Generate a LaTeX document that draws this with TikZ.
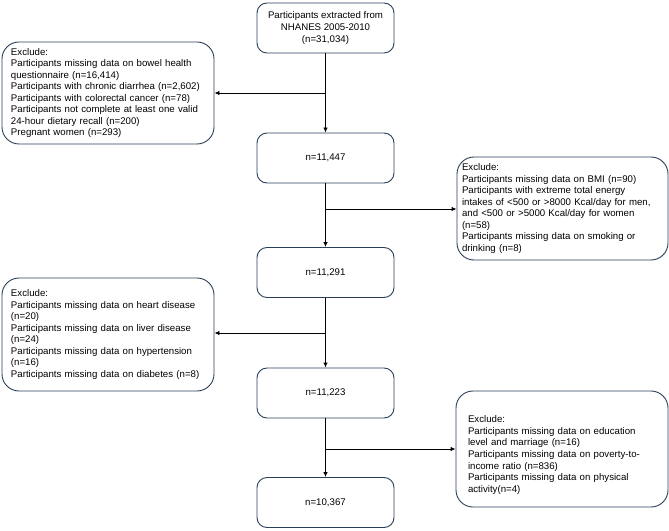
\documentclass[tikz,border=0pt]{standalone}
\usepackage{fontspec}
\setmainfont{Liberation Sans}
\usepackage{xcolor}
\usetikzlibrary{positioning,calc,arrows.meta}
\definecolor{boxline}{HTML}{2A3F57}

\begin{document}
\hyphenpenalty=10000 \exhyphenpenalty=10000
\begin{tikzpicture}[x=1bp,y=-1bp,
    stagebox/.style={draw=boxline, line width=0.9bp, rounded corners=10bp, minimum width=137bp, minimum height=50bp, align=center, font=\fontsize{9.7}{11.7}\selectfont},
    excbox/.style={draw=boxline, line width=0.9bp, rounded corners=17bp, minimum width=212bp, inner sep=0pt, align=left, font=\fontsize{9.7}{11.6}\selectfont},
    flow/.style={line width=0.9bp, -{Latex[length=5bp,width=4.5bp]}}]
    \useasboundingbox (0,0) rectangle (669,531);

    % Main stages
    \node[stagebox] (src) at (325.5,28) {Participants extracted from\\NHANES 2005-2010\\(n=31,034)};
    \node[stagebox] (s1) at (325.5,158) {n=11,447};
    \node[stagebox] (s2) at (325.5,272.5) {n=11,291};
    \node[stagebox] (s3) at (325.5,393) {n=11,223};
    \node[stagebox] (s4) at (325.5,502.5) {n=10,367};

    % Exclusion boxes
    \node[excbox, text width=194bp, minimum height=102bp] (ex1) at (108,93) {Exclude:\\Participants missing data on bowel health\\questionnaire (n=16,414)\\Participants with chronic diarrhea (n=2,602)\\Participants with colorectal cancer (n=78)\\Participants not complete at least one valid\\24-hour dietary recall (n=200)\\Pregnant women (n=293)};
    \node[excbox, text width=201bp, minimum width=211bp, minimum height=103bp] (ex2) at (562.5,208.5) {Exclude:\\Participants missing data on BMI (n=90)\\Participants with extreme total energy\\intakes of <500 or >8000 Kcal/day for men,\\and <500 or >5000 Kcal/day for women\\(n=58)\\Participants missing data on smoking or\\drinking (n=8)};
    \node[excbox, text width=194bp, minimum height=113bp] (ex3) at (108,334.5) {Exclude:\\Participants missing data on heart disease\\(n=20)\\Participants missing data on liver disease\\(n=24)\\Participants missing data on hypertension\\(n=16)\\Participants missing data on diabetes (n=8)};
    \node[excbox, text width=188bp, minimum height=116bp] (ex4) at (562,449) {\rule{0pt}{19bp}Exclude:\\Participants missing data on education\\level and marriage (n=16)\\Participants missing data on poverty-to-\\income ratio (n=836)\\Participants missing data on physical\\activity(n=4)};

    % Junctions on the main line
    \coordinate (j1) at (325.5,93);
    \coordinate (j2) at (325.5,209);
    \coordinate (j3) at (325.5,333);
    \coordinate (j4) at (325.5,449);

    % Arrows
    \draw[flow] (src) -- (s1);
    \draw[flow] (s1) -- (s2);
    \draw[flow] (s2) -- (s3);
    \draw[flow] (s3) -- (s4);
    \draw[flow] (j1) -- (j1 -| ex1.east);
    \draw[flow] (j2) -- (j2 -| ex2.west);
    \draw[flow] (j3) -- (j3 -| ex3.east);
    \draw[flow] (j4) -- (j4 -| ex4.west);
\end{tikzpicture}
\end{document}
